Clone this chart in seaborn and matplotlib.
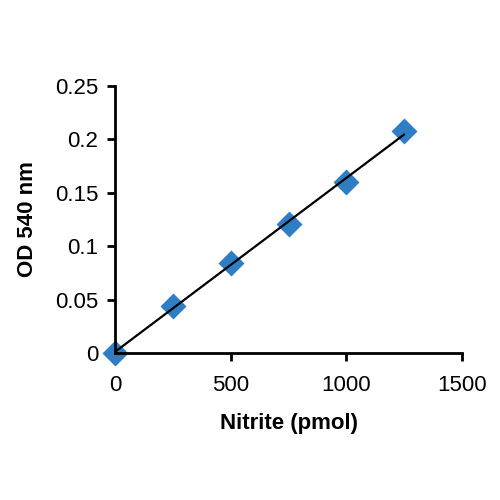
import numpy as np
import pandas as pd
import seaborn as sns
import matplotlib.pyplot as plt

nitrite = [0, 250, 500, 750, 1000, 1250]
od540 = [0.0, 0.044, 0.084, 0.121, 0.160, 0.208]

df = pd.DataFrame({'Nitrite (pmol)': nitrite, 'OD 540 nm': od540})

sns.set_style('ticks')
plt.rcParams['font.family'] = ['Liberation Sans', 'DejaVu Sans']
plt.rcParams['text.color'] = 'black'
plt.rcParams['axes.labelcolor'] = 'black'

fig = plt.figure(figsize=(5, 5), dpi=100)
ax = fig.add_axes([0.23, 0.294, 0.694, 0.534])

# linear trendline
slope, intercept = np.polyfit(nitrite, od540, 1)
xs = np.array([0, 1250])
ax.plot(xs, slope * xs + intercept, color='black', lw=1.6, zorder=3)

sns.scatterplot(data=df, x='Nitrite (pmol)', y='OD 540 nm', marker='D', s=175,
                color='#2F7EC4', edgecolor='#2F7EC4', linewidth=0, ax=ax, zorder=2)

ax.set_xlim(0, 1500)
ax.set_ylim(0, 0.25)
ax.set_xticks([0, 500, 1000, 1500])
ax.set_yticks([0, 0.05, 0.1, 0.15, 0.2, 0.25])
ax.set_yticklabels(['0', '0.05', '0.1', '0.15', '0.2', '0.25'])
ax.tick_params(labelsize=16, width=2, length=6, colors='black')
ax.tick_params(axis='x', pad=10)
ax.tick_params(axis='y', pad=6)
for side in ['left', 'bottom']:
    ax.spines[side].set_linewidth(2)
    ax.spines[side].set_color('black')
sns.despine(ax=ax)
for p in ax.collections:
    p.set_clip_on(False)

ax.set_xlabel('Nitrite (pmol)', fontsize=16, fontweight='bold', labelpad=12)
ax.set_ylabel('OD 540 nm', fontsize=16, fontweight='bold', labelpad=12)

plt.savefig('out.png', dpi=100)
